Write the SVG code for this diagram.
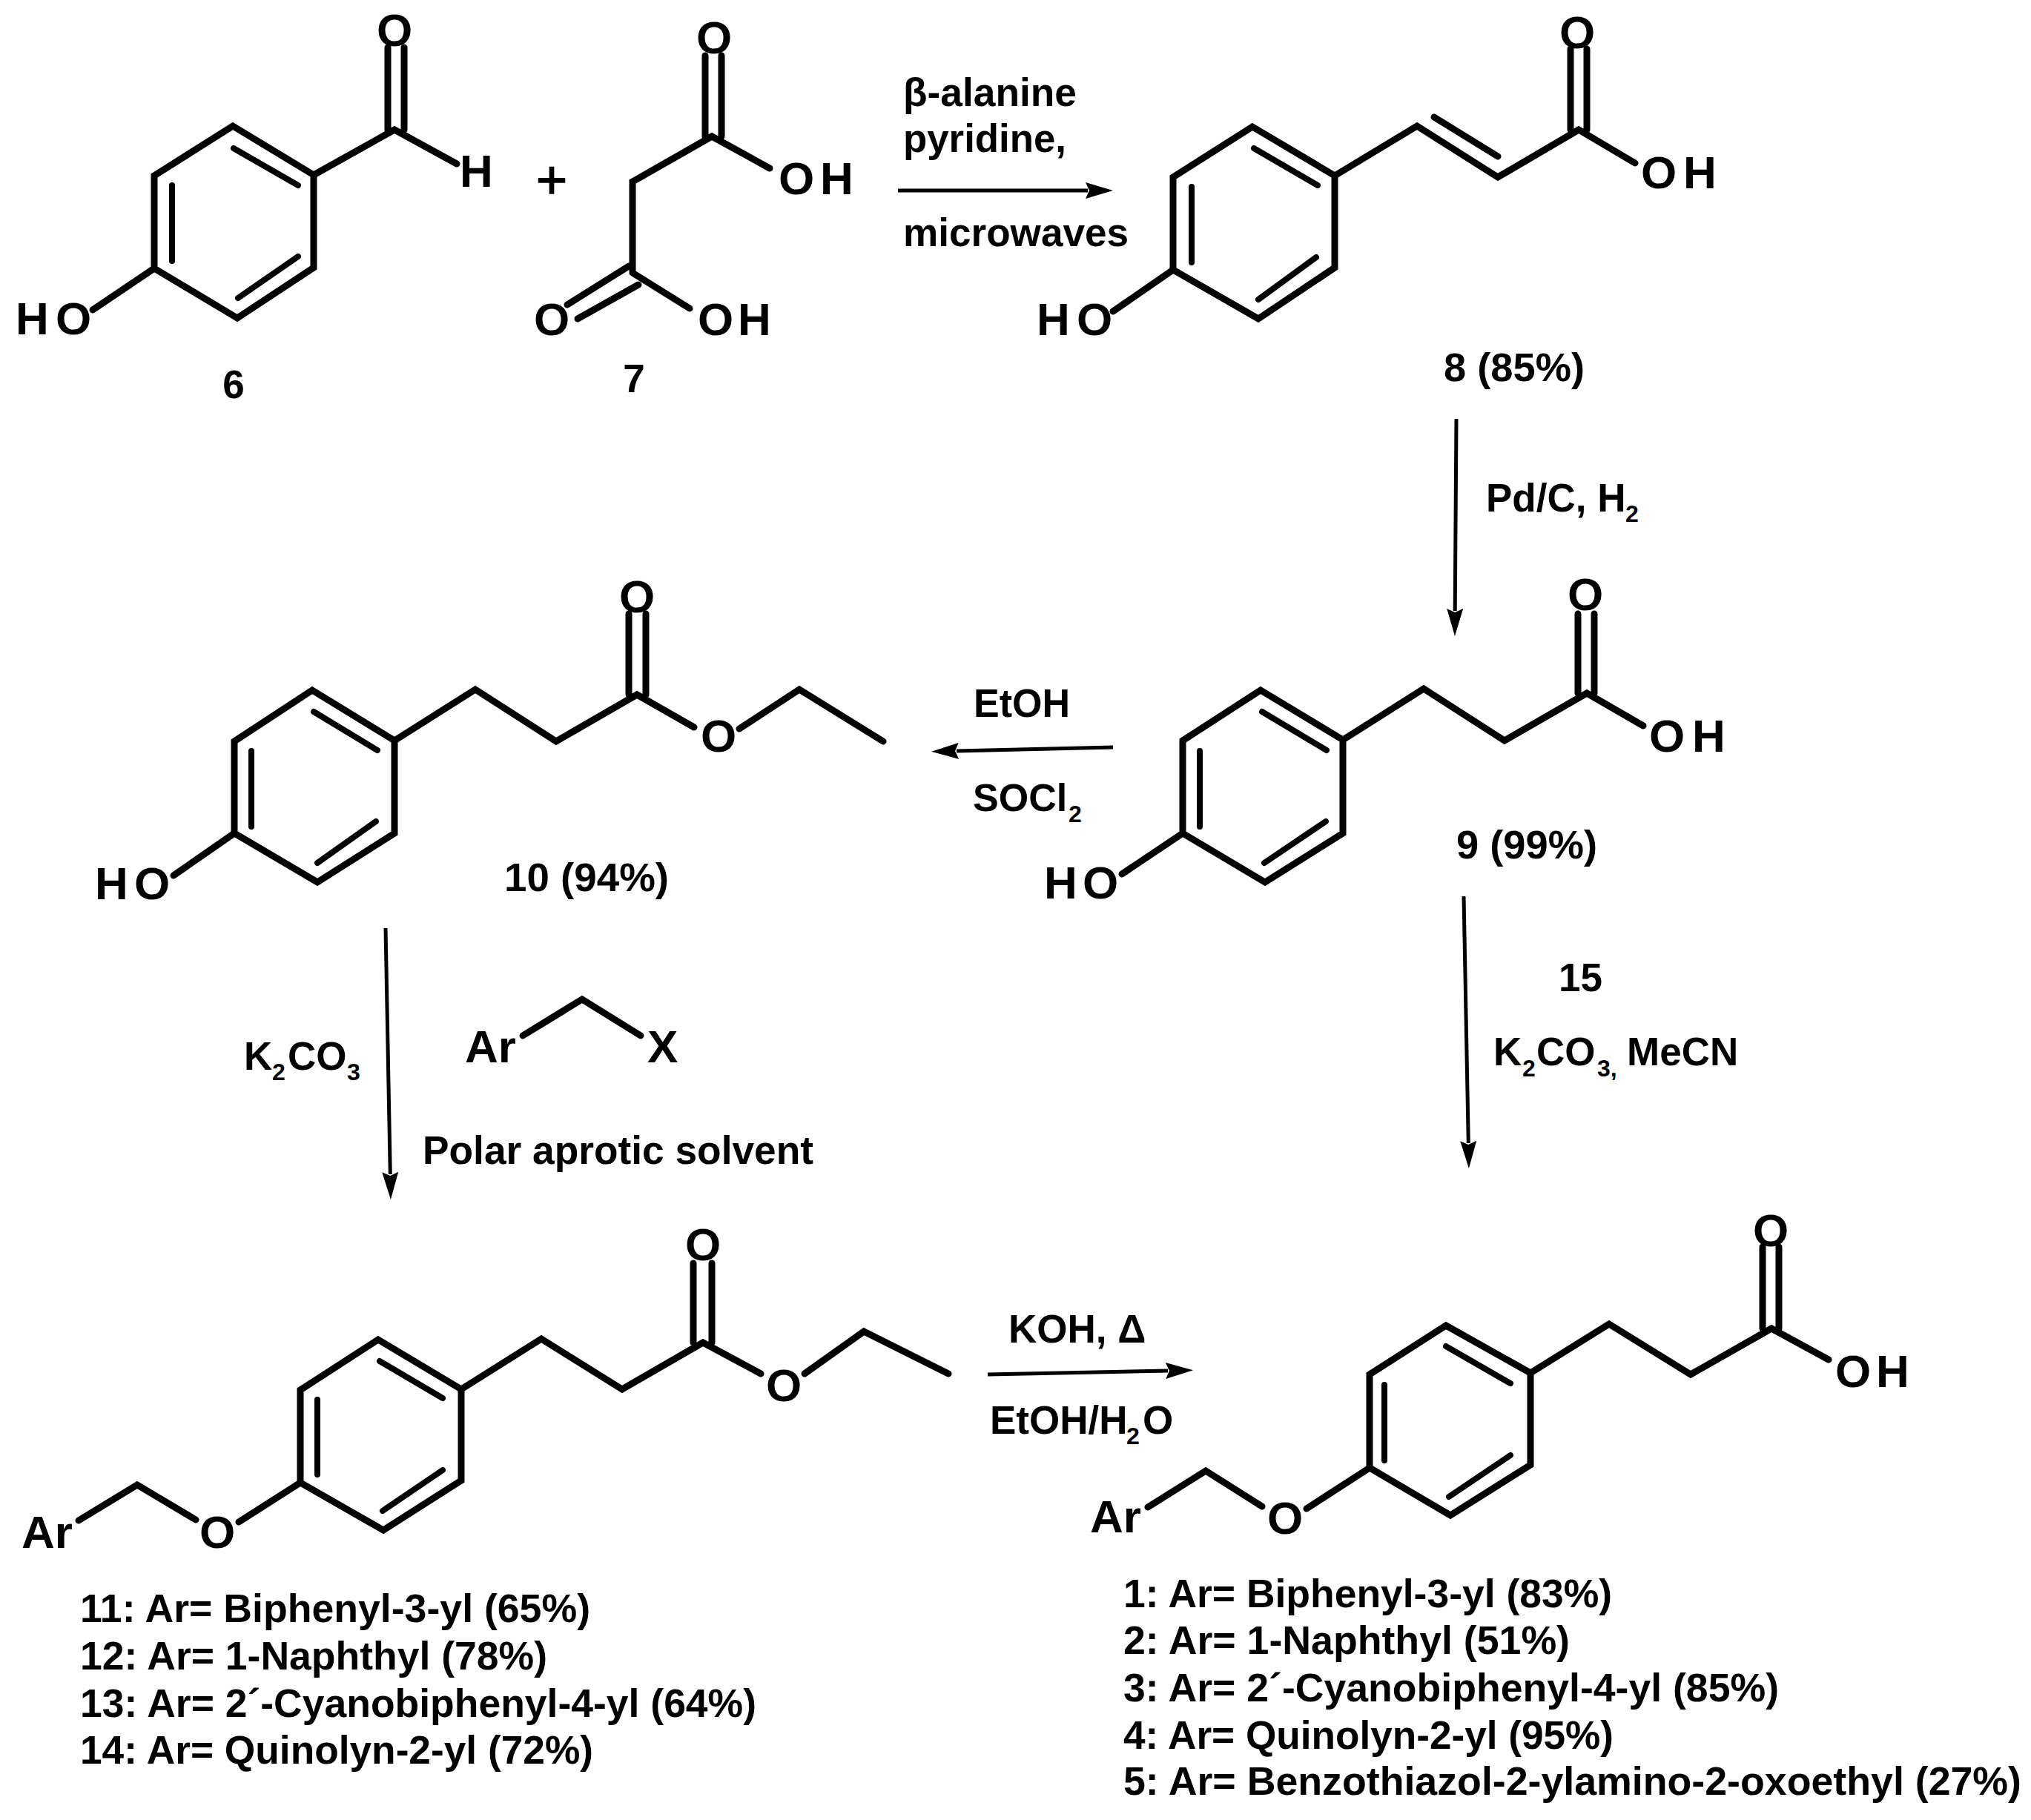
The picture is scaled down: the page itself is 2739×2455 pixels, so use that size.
<svg xmlns="http://www.w3.org/2000/svg" width="2739" height="2455" viewBox="0 0 2739 2455">
<style>
text{font-family:"Liberation Sans",Arial,sans-serif;font-weight:700;fill:#000}
.a{font-size:62px}
.am{font-size:62px;text-anchor:middle}
.t{font-size:53px}
.s{font-size:32px}
.b{fill:none;stroke:#000;stroke-width:9;stroke-linecap:round;stroke-linejoin:miter}
.i{fill:none;stroke:#000;stroke-width:8;stroke-linecap:round}
.ar{fill:none;stroke:#000;stroke-width:5;marker-end:url(#head)}
</style>
<defs>
<marker id="head" markerUnits="userSpaceOnUse" viewBox="-4 -12 40 24" refX="0" refY="0" markerWidth="40" markerHeight="24" orient="auto">
<path d="M-3,-11 L34,0 L-3,11 L2,0 Z" fill="#000"/>
</marker>
</defs>
<rect width="2739" height="2455" fill="#fff"/>

<g id="connectors">
<path class="ar" d="M1211,257 L1467,257"/>
<path class="ar" d="M1964,565 L1962.2,824"/>
<path class="ar" d="M1501,1008 L1290,1013"/>
<path class="ar" d="M1974,1209 L1980.3,1542"/>
<path class="ar" d="M520,1252 L526.3,1584"/>
<path class="ar" d="M1332,1854 L1575,1849"/>
</g>

<g id="compound-6">
<path class="b" d="M314,170 L423,236 L423,361 L320,429 L208,362 L208,237 Z"/>
<path class="i" d="M315,200 L402,250 M232,250 L232,352 M402,346 L321,402"/>
<path class="b" d="M423,236 L532,175 L616,221 M523,64 L523,175 M545,64 L545,175 M208,362 L125,418"/>
<text class="am" x="532" y="62">O</text>
<text class="a" x="620" y="252">H</text>
<text class="a" x="21 75" y="451">HO</text>
<text class="t" x="315" y="537" text-anchor="middle">6</text>
</g>
<g id="plus"><text x="744" y="267" text-anchor="middle" font-size="72" style="font-weight:400;stroke:#000;stroke-width:1.5">+</text></g>
<g id="compound-7">
<path class="b" d="M853,366 L853,245 L960,184 L1038,227 M951,75 L951,184 M973,75 L973,184 M853,368 L930,416 M765,411 L848,359 M779,430 L861,384"/>
<text class="am" x="963" y="72">O</text>
<text class="a" x="1050 1106" y="262">OH</text>
<text class="am" x="744" y="452">O</text>
<text class="a" x="941 995" y="452">OH</text>
<text class="t" x="855" y="529" text-anchor="middle">7</text>
</g>
<g id="reagents-a">
<text class="t" x="1218" y="143" textLength="234" lengthAdjust="spacingAndGlyphs">β-alanine</text>
<text class="t" x="1218" y="205" textLength="220" lengthAdjust="spacingAndGlyphs">pyridine,</text>
<text class="t" x="1218" y="332" textLength="304" lengthAdjust="spacingAndGlyphs">microwaves</text>
</g>
<g id="compound-8">
<path class="b" d="M1689,171 L1800,237 L1800,361 L1697,430 L1582,364 L1582,239 Z"/>
<path class="i" d="M1691,200 L1777,250 M1607,252 L1607,354 M1775,347 L1697,404"/>
<path class="b" d="M1800,237 L1911,170 L2020,239 L2129,175 L2205,220 M1934,158 L2020,211 M2118,66 L2118,175 M2140,66 L2140,175 M1582,364 L1501,420"/>
<text class="am" x="2127" y="65">O</text>
<text class="a" x="2213 2270" y="254">OH</text>
<text class="a" x="1398 1452" y="452">HO</text>
<text class="t" x="1947" y="514" textLength="190" lengthAdjust="spacingAndGlyphs">8 (85%)</text>
</g>
<g id="reagents-b">
<text class="t" x="2004" y="690">Pd/C, H<tspan class="s" x="2192" y="704">2</tspan></text>
</g>
<g id="compound-9">
<path class="b" d="M1700,931 L1811,998 L1811,1124 L1706,1190 L1595,1124 L1595,999 Z"/>
<path class="i" d="M1702,960 L1789,1012 M1618,1013 L1618,1115 M1788,1108 L1705,1164"/>
<path class="b" d="M1811,998 L1920,929 L2029,999 L2140,935 L2216,979 M2128,828 L2128,935 M2150,828 L2150,935 M1595,1124 L1513,1179"/>
<text class="am" x="2138" y="823">O</text>
<text class="a" x="2224 2282" y="1014">OH</text>
<text class="a" x="1408 1460" y="1212">HO</text>
<text class="t" x="1964" y="1158" textLength="190" lengthAdjust="spacingAndGlyphs">9 (99%)</text>
</g>
<g id="reagents-c">
<text class="t" x="1313" y="967" textLength="130" lengthAdjust="spacingAndGlyphs">EtOH</text>
<text x="1312" y="1094" font-size="52">SOCl<tspan class="s" x="1441" y="1109">2</tspan></text>
</g>
<g id="compound-10">
<path class="b" d="M421,931 L532,999 L532,1124 L428,1190 L316,1124 L316,1000 Z"/>
<path class="i" d="M423,960 L509,1012 M339,1013 L339,1115 M507,1108 L428,1164"/>
<path class="b" d="M532,999 L641,930 L750,1000 L859,937 L936,981 M997,983 L1078,930 L1191,1000 M848,828 L848,937 M871,828 L871,937 M316,1124 L234,1181"/>
<text class="am" x="859" y="826">O</text>
<text class="am" x="969" y="1014">O</text>
<text class="a" x="128 181" y="1213">HO</text>
<text class="t" x="680" y="1202" textLength="222" lengthAdjust="spacingAndGlyphs">10 (94%)</text>
</g>
<g id="reagents-d">
<text class="t" x="329" y="1443">K<tspan class="s" x="367" y="1457">2</tspan><tspan x="388" y="1443">CO</tspan><tspan class="s" x="468" y="1457">3</tspan></text>
<path class="b" d="M705,1397 L785,1348 L864,1397"/>
<text class="a" x="627" y="1433">Ar</text>
<text class="a" x="873" y="1433">X</text>
<text class="t" x="570" y="1570" textLength="527" lengthAdjust="spacingAndGlyphs">Polar aprotic solvent</text>
</g>
<g id="reagents-e">
<text class="t" x="2102" y="1337">15</text>
<text class="t" x="2014" y="1437">K<tspan class="s" x="2053" y="1452">2</tspan><tspan x="2072" y="1437">CO</tspan><tspan class="s" x="2154" y="1452">3,</tspan><tspan x="2194" y="1437">MeCN</tspan></text>
</g>
<g id="reagents-f">
<text class="t" x="1360" y="1811">KOH, Δ</text>
<text class="t" x="1335" y="1934">EtOH/H<tspan class="s" x="1519" y="1948">2</tspan><tspan x="1541" y="1934">O</tspan></text>
</g>
<g id="compound-11-14">
<path class="b" d="M510,1807 L622,1874 L622,1997 L517,2064 L405,2000 L405,1875 Z"/>
<path class="i" d="M512,1836 L597,1886 M428,1888 L428,1989 M597,1983 L516,2038"/>
<path class="b" d="M622,1874 L730,1806 L839,1874 L948,1811 L1026,1853 M1085,1853 L1165,1796 L1279,1853 M935,1704 L935,1811 M960,1704 L960,1811 M405,2000 L322,2053 M264,2050 L185,2003 L106,2051"/>
<text class="am" x="948" y="1700">O</text>
<text class="am" x="1057" y="1890">O</text>
<text class="am" x="293" y="2088">O</text>
<text class="a" x="29" y="2088">Ar</text>
<text class="t" x="108" y="2188" textLength="688" lengthAdjust="spacingAndGlyphs">11: Ar= Biphenyl-3-yl (65%)</text>
<text class="t" x="108" y="2252" textLength="630" lengthAdjust="spacingAndGlyphs">12: Ar= 1-Naphthyl (78%)</text>
<text class="t" x="108" y="2316" textLength="912" lengthAdjust="spacingAndGlyphs">13: Ar= 2´-Cyanobiphenyl-4-yl (64%)</text>
<text class="t" x="108" y="2379" textLength="692" lengthAdjust="spacingAndGlyphs">14: Ar= Quinolyn-2-yl (72%)</text>
</g>
<g id="compound-1-5">
<path class="b" d="M1950,1788 L2064,1852 L2064,1976 L1956,2044 L1847,1980 L1847,1854 Z"/>
<path class="i" d="M1950,1816 L2037,1866 M1867,1868 L1867,1970 M2037,1963 L1954,2019"/>
<path class="b" d="M2064,1852 L2170,1786 L2280,1854 L2389,1792 L2466,1834 M2377,1682 L2377,1792 M2399,1682 L2399,1792 M1847,1980 L1762,2035 M1702,2032 L1626,1984 L1548,2033"/>
<text class="am" x="2388" y="1681">O</text>
<text class="a" x="2475 2530" y="1871">OH</text>
<text class="am" x="1733" y="2069">O</text>
<text class="a" x="1470" y="2067">Ar</text>
<text class="t" x="1515" y="2168" textLength="659" lengthAdjust="spacingAndGlyphs">1: Ar= Biphenyl-3-yl (83%)</text>
<text class="t" x="1515" y="2231" textLength="602" lengthAdjust="spacingAndGlyphs">2: Ar= 1-Naphthyl (51%)</text>
<text class="t" x="1515" y="2295" textLength="884" lengthAdjust="spacingAndGlyphs">3: Ar= 2´-Cyanobiphenyl-4-yl (85%)</text>
<text class="t" x="1515" y="2359" textLength="661" lengthAdjust="spacingAndGlyphs">4: Ar= Quinolyn-2-yl (95%)</text>
<text class="t" x="1515" y="2421" textLength="1211" lengthAdjust="spacingAndGlyphs">5: Ar= Benzothiazol-2-ylamino-2-oxoethyl (27%)</text>
</g>
</svg>
